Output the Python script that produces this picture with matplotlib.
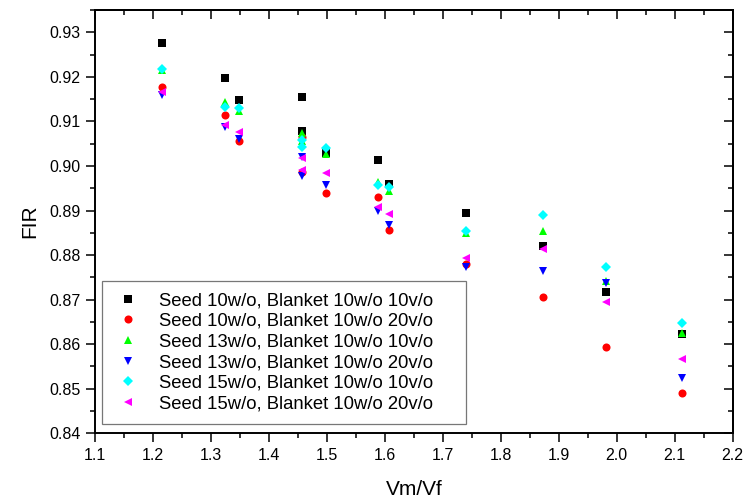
import numpy as np
import matplotlib
matplotlib.use('Agg')
import matplotlib.pyplot as plt
from matplotlib.ticker import MultipleLocator, FormatStrFormatter

plt.rcParams['font.family'] = ['Liberation Sans', 'DejaVu Sans']

vm_vf = [1.216, 1.325, 1.348, 1.457, 1.457, 1.498, 1.589, 1.607, 1.740, 1.873, 1.981, 2.113]

s10_b10 = [0.9277, 0.9198, 0.9148, 0.9154, 0.9078, 0.9030, 0.9013, 0.8959, 0.8894, 0.8821, 0.8717, 0.8623]
s10_b20 = [0.9178, 0.9114, 0.9057, 0.9066, 0.8987, 0.8939, 0.8931, 0.8856, 0.8781, 0.8706, 0.8594, 0.8491]
s13_b10 = [0.9216, 0.9144, 0.9124, 0.9074, 0.9057, 0.9027, 0.8963, 0.8944, 0.8850, 0.8854, 0.8742, 0.8625]
s13_b20 = [0.9159, 0.9088, 0.9060, 0.9021, 0.8977, 0.8957, 0.8900, 0.8867, 0.8773, 0.8765, 0.8738, 0.8523]
s15_b10 = [0.9218, 0.9133, 0.9129, 0.9058, 0.9042, 0.9041, 0.8957, 0.8953, 0.8855, 0.8891, 0.8774, 0.8648]
s15_b20 = [0.9167, 0.9093, 0.9077, 0.9018, 0.8992, 0.8984, 0.8907, 0.8892, 0.8793, 0.8814, 0.8695, 0.8567]

labels = [
    'Seed 10w/o, Blanket 10w/o 10v/o',
    'Seed 10w/o, Blanket 10w/o 20v/o',
    'Seed 13w/o, Blanket 10w/o 10v/o',
    'Seed 13w/o, Blanket 10w/o 20v/o',
    'Seed 15w/o, Blanket 10w/o 10v/o',
    'Seed 15w/o, Blanket 10w/o 20v/o',
]
series = [s10_b10, s10_b20, s13_b10, s13_b20, s15_b10, s15_b20]
colors = ['#000000', '#ff0000', '#00ff00', '#0000ff', '#00ffff', '#ff00ff']
markers = ['s', 'o', '^', 'v', 'D', '<']
sizes = [5.2, 5.8, 6.0, 6.0, 4.6, 6.0]

fig = plt.figure(figsize=(7.45, 5.0), dpi=100)
ax = fig.add_axes([0.1275, 0.1334, 0.856, 0.8466])

for y, c, m, ms, lab in zip(series, colors, markers, sizes, labels):
    ax.plot(vm_vf, y, linestyle='none', marker=m, color=c, ms=ms,
            markeredgewidth=0, label=lab)

ax.set_xlim(1.1, 2.2)
ax.set_ylim(0.84, 0.935)
ax.xaxis.set_major_locator(MultipleLocator(0.1))
ax.xaxis.set_minor_locator(MultipleLocator(0.05))
ax.yaxis.set_major_locator(MultipleLocator(0.01))
ax.yaxis.set_minor_locator(MultipleLocator(0.005))
ax.xaxis.set_major_formatter(FormatStrFormatter('%.1f'))
ax.yaxis.set_major_formatter(FormatStrFormatter('%.2f'))

for sp in ax.spines.values():
    sp.set_linewidth(1.4)
ax.tick_params(which='major', direction='out', length=6.5, width=1.1, labelsize=11.5, pad=4)
ax.tick_params(which='minor', direction='out', length=3.3, width=1.1)

# inward ticks on top and right
top = ax.secondary_xaxis('top')
top.xaxis.set_major_locator(MultipleLocator(0.1))
top.xaxis.set_minor_locator(MultipleLocator(0.05))
top.tick_params(which='major', direction='in', length=6.5, width=1.1, labeltop=False)
top.tick_params(which='minor', direction='in', length=3.5, width=1.1)
top.spines['top'].set_linewidth(1.4)
right = ax.secondary_yaxis('right')
right.yaxis.set_major_locator(MultipleLocator(0.01))
right.yaxis.set_minor_locator(MultipleLocator(0.005))
right.tick_params(which='major', direction='in', length=6.5, width=1.1, labelright=False)
right.tick_params(which='minor', direction='in', length=3.5, width=1.1)
right.spines['right'].set_linewidth(1.4)

ax.set_xlabel('Vm/Vf', fontsize=15, labelpad=12)
ax.set_ylabel('FIR', fontsize=15, labelpad=7)

leg = ax.legend(loc='lower left', bbox_to_anchor=(0.011, 0.022, 0.571, 0), mode='expand',
                borderaxespad=0, fontsize=13.3, frameon=True, fancybox=False, shadow=False,
                handlelength=1.6, handletextpad=0.85, labelspacing=0.2,
                borderpad=0.62, markerscale=1.0)
leg.get_frame().set_edgecolor('#555555')
leg.get_frame().set_linewidth(0.9)

plt.savefig('out.png', dpi=100)
plt.close()
